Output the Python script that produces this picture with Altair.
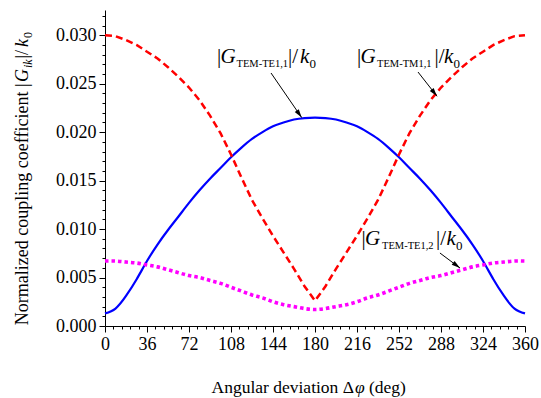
import altair as alt
import pandas as pd

# ---------------- data ----------------
phi = list(range(0, 361, 9))  # angular deviation (deg)

g_te11 = [0.0013, 0.0018, 0.0031, 0.0048, 0.0067, 0.0084, 0.0099, 0.0113, 0.0127, 0.0140,
          0.0152, 0.0163, 0.0174, 0.0184, 0.0193, 0.0200, 0.0206, 0.0210, 0.0213, 0.02145,
          0.0215, 0.02145, 0.0213, 0.0210, 0.0206, 0.0200, 0.0193, 0.0184, 0.0174, 0.0163,
          0.0152, 0.0140, 0.0127, 0.0113, 0.0099, 0.0084, 0.0067, 0.0048, 0.0031, 0.0018,
          0.0013]

g_tm11 = [0.0300, 0.0299, 0.0295, 0.0290, 0.0283, 0.0276, 0.0267, 0.0257, 0.0246, 0.0233,
          0.0217, 0.0199, 0.0177, 0.0153, 0.0130, 0.0111, 0.0093, 0.0076, 0.0059, 0.0041,
          0.0026, 0.0041, 0.0059, 0.0076, 0.0093, 0.0111, 0.0130, 0.0153, 0.0177, 0.0199,
          0.0217, 0.0233, 0.0246, 0.0257, 0.0267, 0.0276, 0.0283, 0.0290, 0.0295, 0.0299,
          0.0300]

g_te12 = [0.0067, 0.0067, 0.0066, 0.0065, 0.0063, 0.0061, 0.0058, 0.0055, 0.0052, 0.0050,
          0.0047, 0.0044, 0.0040, 0.0036, 0.0032, 0.0029, 0.0025, 0.0022, 0.0020, 0.0018,
          0.0017, 0.0018, 0.0020, 0.0022, 0.0025, 0.0029, 0.0032, 0.0036, 0.0040, 0.0044,
          0.0047, 0.0050, 0.0052, 0.0055, 0.0058, 0.0061, 0.0063, 0.0065, 0.0066, 0.0067,
          0.0067]

x_ticks = [round(i * 7.2, 4) for i in range(51)]
y_ticks = [round(i * 0.001, 4) for i in range(33)]

# arrows (label -> curve), in data units
arrow_x = [142.3, 268.3, 287.1]
arrow_y = [0.0261, 0.0262, 0.00753]
arrow_x2 = [168.6, 284.6, 304.3]
arrow_y2 = [0.0215, 0.0237, 0.00598]
arrow_ang = [144.8, 141.6, 126.9]

FONT = "Liberation Serif"
L, T = 105, 10  # plot-area offset in the page

df = pd.DataFrame({"phi": phi, "te11": g_te11, "tm11": g_tm11, "te12": g_te12})
arr = pd.DataFrame({"x": arrow_x, "y": arrow_y, "x2": arrow_x2, "y2": arrow_y2, "ang": arrow_ang})
one = pd.DataFrame({"k": [0]})

xscale = alt.Scale(domain=[0, 360], nice=False)
yscale = alt.Scale(domain=[0, 0.0326], nice=False)

xaxis = alt.Axis(
    values=x_ticks, title=None, grid=False,
    labelExpr="abs(datum.value/36 - round(datum.value/36)) < 0.001 ? format(datum.value, 'd') : ''",
    tickSize={"condition": {"test": "abs(datum.value/36 - round(datum.value/36)) < 0.001", "value": 6}, "value": 3},
    labelFont=FONT, labelFontSize=18, labelColor="black", labelPadding=3,
    labelFlush=False, labelOverlap=False, domainColor="black", tickColor="black",
    domainWidth=1, tickWidth=1,
)
yaxis = alt.Axis(
    values=y_ticks, title=None, grid=False,
    labelExpr="abs(datum.value*200 - round(datum.value*200)) < 0.001 ? format(datum.value, '.3f') : ''",
    tickSize={"condition": {"test": "abs(datum.value*200 - round(datum.value*200)) < 0.001", "value": 6}, "value": 3},
    labelFont=FONT, labelFontSize=18, labelColor="black", labelPadding=3,
    labelFlush=False, labelOverlap=False, domainColor="black", tickColor="black",
    domainWidth=1, tickWidth=1,
)

X = alt.X("phi:Q", scale=xscale, axis=xaxis)

blue = alt.Chart(df).mark_line(color="#0000FF", strokeWidth=2.2, interpolate="natural").encode(
    x=X, y=alt.Y("te11:Q", scale=yscale, axis=yaxis))
red = alt.Chart(df).mark_line(color="#FF0000", strokeWidth=2.5, strokeDash=[7, 4]).encode(
    x=X, y=alt.Y("tm11:Q", scale=yscale, axis=yaxis))
mag = alt.Chart(df).mark_line(color="#FF00FF", strokeWidth=3.6, strokeDash=[3.5, 3],
                              interpolate="natural").encode(
    x=X, y=alt.Y("te12:Q", scale=yscale, axis=yaxis))

rules = alt.Chart(arr).mark_rule(color="black", strokeWidth=1).encode(
    x=alt.X("x:Q", scale=xscale, axis=xaxis), y=alt.Y("y:Q", scale=yscale, axis=yaxis),
    x2="x2:Q", y2="y2:Q")
heads = alt.Chart(arr).mark_point(shape="M0,0L-0.4,1.4L0.4,1.4Z", filled=True, color="black",
                                  opacity=1, size=150).encode(
    x=alt.X("x2:Q", scale=xscale, axis=xaxis), y=alt.Y("y2:Q", scale=yscale, axis=yaxis),
    angle=alt.Angle("ang:Q", scale=None))


def piece(s, x, y, size, italic=False, angle=0, align="left"):
    return alt.Chart(one).mark_text(
        text=s, font=FONT, fontSize=size, fontStyle="italic" if italic else "normal",
        align=align, baseline="alphabetic", angle=angle, color="black",
    ).encode(x=alt.value(x - L), y=alt.value(y - T))


texts = []
# label |G_TEM-TE1,1|/k0
texts += [piece("|", 217, 63, 21), piece("G", 220.5, 63, 21, True),
          piece("TEM-TE1,1", 236.5, 67, 10.5), piece("|/", 288, 63, 21),
          piece("k", 300, 63, 21, True), piece("0", 309.5, 67.5, 13)]
# label |G_TEM-TM1,1|/k0
texts += [piece("|", 357, 63, 21), piece("G", 360.5, 63, 21, True),
          piece("TEM-TM1,1", 377, 67, 10.5), piece("|/", 434.5, 63, 21),
          piece("k", 444, 63, 21, True), piece("0", 453.5, 67.5, 13)]
# label |G_TEM-TE1,2|/k0
texts += [piece("|", 361.5, 245, 21), piece("G", 365, 245, 21, True),
          piece("TEM-TE1,2", 382, 249, 10.5), piece("|/", 436, 245, 21),
          piece("k", 446.5, 245, 21, True), piece("0", 456, 249.5, 13)]
# x-axis title
texts += [piece("Angular deviation Δ", 354, 393, 17.5, align="right"),
          piece("φ", 355, 393, 17.5, True),
          piece("(deg)", 369, 393, 17.5)]
# y-axis title (rotated)
texts += [piece("Normalized coupling coefficient |", 28, 83.5, 18, angle=270, align="right"),
          piece("G", 28, 82, 18, True, angle=270),
          piece("ik", 32, 68, 12, True, angle=270),
          piece("|/", 28, 58.5, 18, angle=270),
          piece("k", 28, 47, 18, True, angle=270),
          piece("0", 32, 38, 12, angle=270)]

chart = alt.layer(blue, red, mag, rules, heads, *texts).properties(
    width=420, height=316,
    autosize=alt.AutoSizeParams(type="none"),
    padding={"left": L, "top": T, "right": 16, "bottom": 72},
    background="white",
).configure_view(strokeOpacity=0)

chart.save("out.html", embed_options={"renderer": "svg", "actions": False})
